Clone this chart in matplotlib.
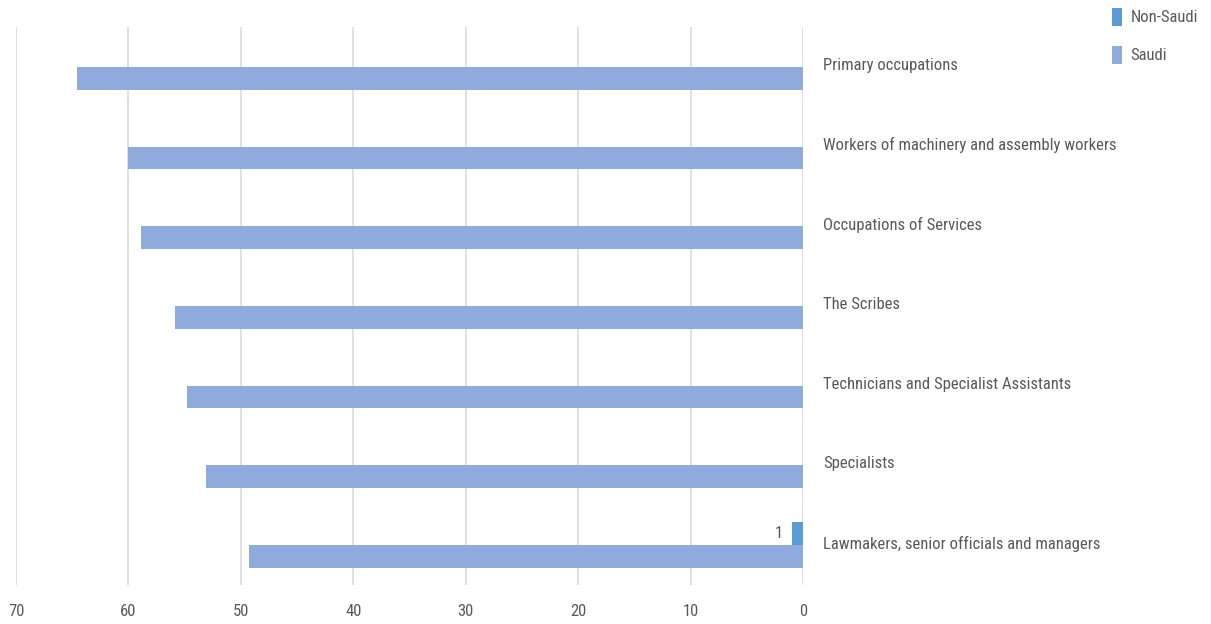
import matplotlib.pyplot as plt
import numpy as np
from matplotlib import font_manager

# Datos
categorias = ['Primary occupations', 'Workers of machinery and assembly workers',
              'Occupations of Services', 'The Scribes',
              'Technicians and Specialist Assistants', 'Specialists',
              'Lawmakers, senior officials and managers']
saudi = [64.6, 60.0, 58.9, 55.9, 54.8, 53.1, 49.3]
non_saudi = [0, 0, 0, 0, 0, 0, 1]
etiquetas_x = [70, 60, 50, 40, 30, 20, 10, 0]

# Buscar una fuente estrecha si existe
nombres = {f.name for f in font_manager.fontManager.ttflist}
fuente, tam = 'Liberation Sans', 11
for cand in ['Roboto Condensed', 'Open Sans Condensed', 'Liberation Sans Narrow',
             'DejaVu Sans Condensed']:
    if cand in nombres:
        fuente, tam = cand, 12
        break
plt.rcParams['font.family'] = [fuente, 'DejaVu Sans']

gris = '#595959'
fig = plt.figure(figsize=(12.11, 6.24), dpi=100)
ax = fig.add_axes([0.0132, 0.0625, 0.6499, 0.894])

y = np.arange(len(categorias))
h = 0.285
ax.barh(y - h / 2, non_saudi, height=h, color='#5b9bd5', label='Non-Saudi', zorder=3)
ax.barh(y + h / 2, saudi, height=h, color='#8faadc', label='Saudi', zorder=3)

# Etiqueta del valor no nulo, a la izquierda de la barra
for i, v in enumerate(non_saudi):
    if v:
        ax.text(v + 0.8, i - h / 2, str(v), ha='right', va='center',
                color=gris, fontsize=tam)

ax.set_xlim(70, 0)
ax.set_ylim(len(categorias) - 0.5, -0.5)
ax.set_xticks(etiquetas_x)
ax.set_xticklabels([str(v) for v in etiquetas_x])
ax.tick_params(axis='x', length=0, pad=14, labelsize=tam, labelcolor=gris)
ax.set_yticks([])
ax.grid(axis='x', color='#dcdcdc', linewidth=1.2, zorder=0)
for s in ax.spines.values():
    s.set_visible(False)

# Etiquetas de categorias a la derecha
for i, c in enumerate(categorias):
    ax.text(-1.8, i - 0.02, c, ha='left', va='center', color=gris, fontsize=tam,
            clip_on=False)

ax.legend(loc='upper left', bbox_to_anchor=(0.906, 1.012), bbox_transform=fig.transFigure,
          frameon=False, fontsize=tam, labelcolor=gris, handlelength=0.6,
          handleheight=1.3, labelspacing=1.2, handletextpad=0.5)

plt.savefig('out.png', dpi=100)
